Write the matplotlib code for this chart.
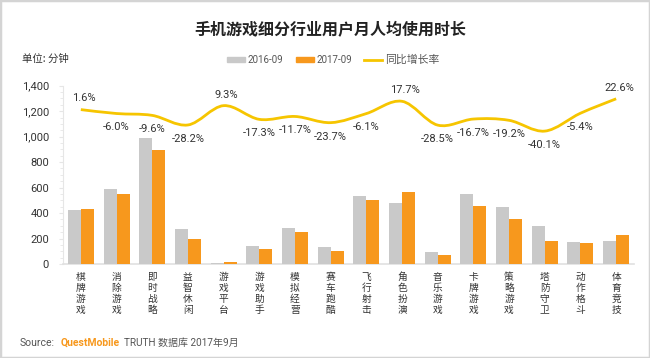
import matplotlib
matplotlib.use("Agg")
import matplotlib.pyplot as plt
from matplotlib.path import Path
from matplotlib.patches import PathPatch, Rectangle
from matplotlib.lines import Line2D
from matplotlib.patches import Patch
from matplotlib.ticker import FuncFormatter, MultipleLocator
import numpy as np

plt.rcParams['font.family'] = ['Noto Sans CJK SC', 'DejaVu Sans']
NARROW = ['Roboto', 'Noto Sans CJK SC']

categories = ["棋牌游戏", "消除游戏", "即时战略", "益智休闲", "游戏平台", "游戏助手", "模拟经营", "赛车跑酷",
              "飞行射击", "角色扮演", "音乐游戏", "卡牌游戏", "策略游戏", "塔防守卫", "动作格斗", "体育竞技"]
v2016 = [425, 591, 988, 278, 11, 143, 286, 137, 531, 478, 95, 551, 444, 299, 176, 184]
v2017 = [431, 552, 893, 194, 12, 118, 255, 105, 499, 562, 68, 459, 357, 179, 166, 229]
growth = [1.6, -6.0, -9.6, -28.2, 9.3, -17.3, -11.7, -23.7, -6.1, 17.7, -28.5, -16.7, -19.2, -40.1, -5.4, 22.6]
yticks = [0, 200, 400, 600, 800, 1000, 1200, 1400]

GRAY = "#c9c9c9"
ORANGE = "#f7981d"
YELLOW = "#f6c500"
TXT = "#333333"

fig = plt.figure(figsize=(6.5, 3.58), dpi=100)
fig.patches.append(Rectangle((0, 0), 1, 1, transform=fig.transFigure, fill=False,
                             edgecolor="#d4d4d4", linewidth=2.5))

ax = fig.add_axes([63 / 650, 1 - 264 / 358, (634 - 63) / 650, (264 - 85.7) / 358])
x = np.arange(len(categories))
w = 0.365
ax.bar(x - w / 2, v2016, width=w, color=GRAY, zorder=3)
ax.bar(x + w / 2, v2017, width=w, color=ORANGE, zorder=3)
ax.set_xlim(-0.5, len(categories) - 0.5)
ax.set_ylim(0, 1400)
ax.set_yticks(yticks)
ax.yaxis.set_major_formatter(FuncFormatter(lambda v, p: f"{int(v):,}"))
ax.yaxis.set_minor_locator(MultipleLocator(50))
ax.tick_params(axis='y', which='major', length=3, color="#e6e6e6", labelsize=8, labelcolor=TXT, pad=7)
ax.tick_params(axis='y', which='minor', length=2, color="#e6e6e6")
for lab in ax.get_yticklabels():
    lab.set_family(NARROW)
for s in ['top', 'right']:
    ax.spines[s].set_visible(False)
ax.spines['left'].set_color("#e6e6e6")
ax.spines['bottom'].set_color("#e0e0e0")
ax.spines['bottom'].set_linewidth(1.2)
ax.set_xticks(x)
ax.set_xticklabels(["\n".join(c) for c in categories], fontsize=7, color=TXT, linespacing=1.12)
ax.tick_params(axis='x', length=0, pad=6)

ax2 = ax.twinx()
ax2.set_ylim(-298, 48)
ax2.axis('off')
# smooth curve through the data points (Catmull-Rom -> cubic Bezier)
pts = np.column_stack([x, growth]).astype(float)
verts = [tuple(pts[0])]
codes = [Path.MOVETO]
n = len(pts)
for i in range(n - 1):
    p0 = pts[i - 1] if i > 0 else pts[i]
    p1 = pts[i]
    p2 = pts[i + 1]
    p3 = pts[i + 2] if i + 2 < n else pts[i + 1]
    c1 = p1 + (p2 - p0) / 6.0
    c2 = p2 - (p3 - p1) / 6.0
    verts += [tuple(c1), tuple(c2), tuple(p2)]
    codes += [Path.CURVE4] * 3
ax2.add_patch(PathPatch(Path(verts, codes), facecolor='none', edgecolor=YELLOW, linewidth=2, zorder=3))
for xi, g in zip(x, growth):
    if g >= 0:
        ax2.annotate(f"{g:.1f}%", (xi, g), xytext=(2, 8), textcoords='offset points',
                     ha='center', va='center', fontsize=8, color=TXT, family=NARROW)
    else:
        ax2.annotate(f"{g:.1f}%", (xi, g), xytext=(0, -10), textcoords='offset points',
                     ha='center', va='center', fontsize=8, color=TXT, family=NARROW)

fig.text(330 / 650, 1 - 30.5 / 358, "手机游戏细分行业用户月人均使用时长", ha='center', va='center',
         fontsize=11.5, fontweight='bold', color="#222222")
fig.text(22 / 650, 1 - 59 / 358, "单位: 分钟", ha='left', va='center', fontsize=7.5, color=TXT)

handles = [Patch(color=GRAY), Patch(color=ORANGE), Line2D([], [], color=YELLOW, linewidth=2)]
leg = fig.legend(handles, ["2016-09", "2017-09", "同比增长率"], loc='center', ncol=3,
                 bbox_to_anchor=(333 / 650, 1 - 60 / 358), frameon=False, fontsize=7,
                 handlelength=1.85, handleheight=0.5, handletextpad=0.25, columnspacing=1.3,
                 labelcolor="#555555")
for t in leg.get_texts()[:2]:
    t.set_family(NARROW)
leg.get_texts()[2].set_fontsize(7.8)

# source line
ypos = 1 - 343 / 358
fig.text(20 / 650, ypos, "Source:", ha='left', va='center', fontsize=7.5, color="#555555", family=NARROW)
fig.text(61 / 650, ypos, "QuestMobile", ha='left', va='center', fontsize=7.5, color=ORANGE,
         fontweight='bold', family=NARROW)
fig.text(124 / 650, ypos, "TRUTH 数据库 2017年9月", ha='left', va='center', fontsize=7.2,
         color="#555555", family=NARROW)

fig.savefig("out.png", dpi=100)
